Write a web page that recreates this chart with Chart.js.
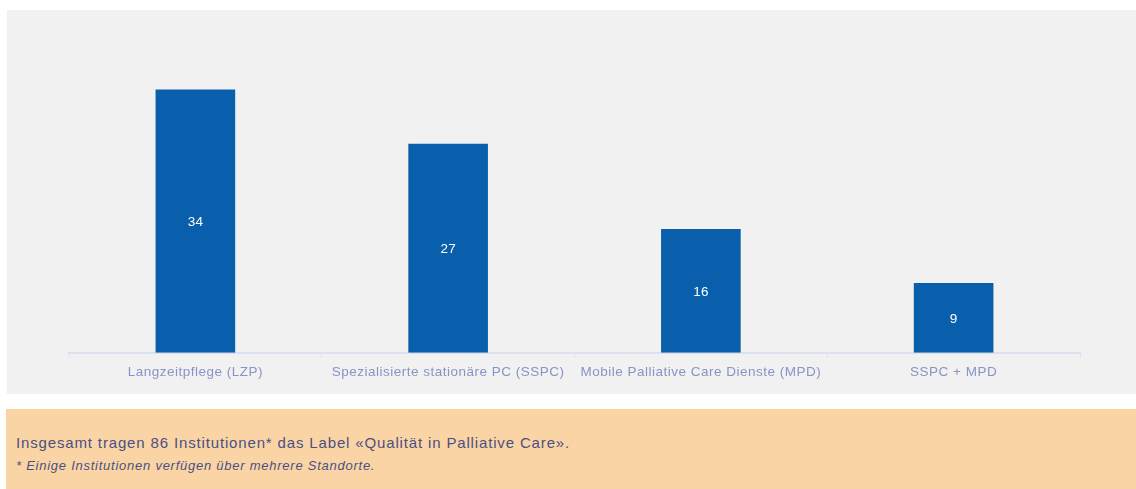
<!DOCTYPE html>
<html>
<head>
<meta charset="utf-8">
<script src="https://cdn.jsdelivr.net/npm/chart.js@4/dist/chart.umd.min.js"></script>
<style>
  html,body{margin:0;padding:0;background:#fff;width:1136px;height:489px;overflow:hidden;font-family:"Liberation Sans",Arial,sans-serif;}
  #panel{position:absolute;left:7px;top:10px;width:1129px;height:384px;background:#f1f1f1;}
  #note{position:absolute;left:6px;top:409px;width:1130px;height:80px;background:#fbd4a6;}
  #l1{position:absolute;left:10px;top:25px;font-size:15px;color:#4a5080;letter-spacing:0.85px;white-space:nowrap;}
  #l2{position:absolute;left:10px;top:49px;font-size:13px;color:#4a5080;font-style:italic;letter-spacing:0.75px;white-space:nowrap;}
</style>
</head>
<body>
<div id="panel"><canvas id="c" width="1129" height="384"></canvas></div>
<div id="note">
  <div id="l1">Insgesamt tragen 86 Institutionen* das Label «Qualität in Palliative Care».</div>
  <div id="l2">* Einige Institutionen verfügen über mehrere Standorte.</div>
</div>
<script>
const categories = ["Langzeitpflege (LZP)", "Spezialisierte stationäre PC (SSPC)", "Mobile Palliative Care Dienste (MPD)", "SSPC + MPD"];
const values = [34, 27, 16, 9];

const spacing = {
  id: 'spacing',
  beforeDraw(chart) { chart.ctx.letterSpacing = '0.5px'; },
  afterDraw(chart) { chart.ctx.letterSpacing = '0px'; }
};

const valueLabels = {
  id: 'valueLabels',
  afterDatasetsDraw(chart) {
    const ctx = chart.ctx;
    const meta = chart.getDatasetMeta(0);
    ctx.save();
    ctx.letterSpacing = '0px';
    ctx.fillStyle = '#ffffff';
    ctx.font = '13.5px "Liberation Sans", Arial, sans-serif';
    ctx.textAlign = 'center';
    ctx.textBaseline = 'middle';
    meta.data.forEach((bar, i) => {
      const y = (bar.y + bar.base) / 2 + 1;
      ctx.fillText(String(values[i]), bar.x, y);
    });
    ctx.restore();
  }
};

new Chart(document.getElementById('c'), {
  type: 'bar',
  data: {
    labels: categories,
    datasets: [{
      data: values,
      backgroundColor: '#0a5fac',
      borderWidth: 0,
      barPercentage: 0.9,
      categoryPercentage: 0.35
    }]
  },
  options: {
    responsive: false,
    animation: false,
    devicePixelRatio: 1,
    layout: { padding: { left: 62, right: 56, top: 33, bottom: 8 } },
    plugins: { legend: { display: false }, tooltip: { enabled: false } },
    scales: {
      y: { display: false, min: 0, max: 40 },
      x: {
        grid: { offset: true, drawOnChartArea: false, color: '#dde0ef', tickLength: 5, lineWidth: 1 },
        border: { color: '#dde0ef', width: 2 },
        ticks: { color: '#8a93c6', font: { size: 13.5, family: '"Liberation Sans", Arial, sans-serif' }, padding: 6, maxRotation: 0, autoSkip: false }
      }
    }
  },
  plugins: [spacing, valueLabels]
});
</script>
</body>
</html>
